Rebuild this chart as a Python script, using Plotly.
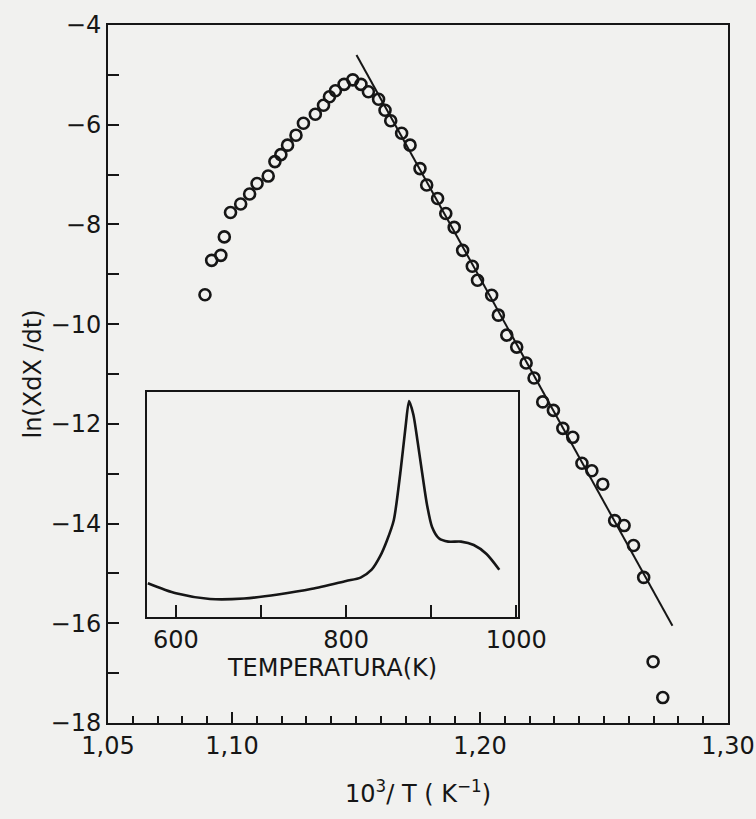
import plotly.graph_objects as go

# Main data: 10^3/T (K^-1) vs ln(X dX/dt)
inv_T = [1.0891, 1.0918, 1.0955, 1.0969, 1.0994, 1.1035, 1.1071, 1.1101, 1.1146, 1.1173,
         1.1197, 1.1224, 1.1258, 1.1288, 1.1336, 1.1369, 1.1393, 1.1417, 1.1452, 1.1487,
         1.1520, 1.1550, 1.1591, 1.1617, 1.1640, 1.1684, 1.1718, 1.1758, 1.1785, 1.1829,
         1.1862, 1.1896, 1.1930, 1.1969, 1.1990, 1.2047, 1.2074, 1.2108, 1.2148, 1.2186,
         1.2218, 1.2253, 1.2296, 1.2334, 1.2374, 1.2411, 1.2451, 1.2495, 1.2543, 1.2581,
         1.2619, 1.2660, 1.2698, 1.2737]
ln_rate = [-9.41, -8.72, -8.62, -8.25, -7.76, -7.59, -7.39, -7.18, -7.03, -6.74,
           -6.60, -6.41, -6.21, -5.97, -5.79, -5.61, -5.44, -5.32, -5.19, -5.10,
           -5.19, -5.34, -5.49, -5.71, -5.92, -6.17, -6.41, -6.88, -7.21, -7.48,
           -7.78, -8.06, -8.52, -8.84, -9.12, -9.42, -9.82, -10.22, -10.46, -10.78,
           -11.08, -11.56, -11.73, -12.09, -12.27, -12.79, -12.94, -13.21, -13.94, -14.04,
           -14.44, -15.08, -16.77, -17.49]

# Fitted straight line endpoints
fit_x = [1.1502, 1.2776]
fit_y = [-4.60, -16.05]

# Inset: signal vs temperature
inset_T = [567, 600, 640, 680, 720, 760, 800, 817, 830, 840, 848, 856, 864, 870, 874,
           879, 884, 889, 895, 901, 909, 920, 935, 950, 965, 980]
inset_signal = [0.15, 0.105, 0.08, 0.082, 0.10, 0.125, 0.16, 0.175, 0.21, 0.27, 0.34, 0.43,
                0.65, 0.85, 0.96, 0.90, 0.78, 0.65, 0.50, 0.40, 0.35, 0.335, 0.335, 0.32,
                0.28, 0.21]

x_tickvals = [1.05, 1.10, 1.20, 1.30]
x_ticktext = ["1,05", "1,10", "1,20", "1,30"]
y_tickvals = [-4, -6, -8, -10, -12, -14, -16, -18]
y_ticktext = ["\u22124", "\u22126", "\u22128", "\u221210", "\u221212", "\u221214", "\u221216", "\u221218"]
inset_tickvals = [600, 800, 1000]
inset_ticktext = ["600", "800", "1000"]

INK = "#161616"
BG = "#f1f1ef"
FONT = "DejaVu Sans"

fig = go.Figure()
fig.add_trace(go.Scatter(x=fit_x, y=fit_y, mode="lines",
                         line=dict(color=INK, width=2), showlegend=False))
fig.add_trace(go.Scatter(x=inv_T, y=ln_rate, mode="markers",
                         marker=dict(symbol="circle-open", size=11, color=INK,
                                     line=dict(width=2.6, color=INK)),
                         showlegend=False))
fig.add_trace(go.Scatter(x=inset_T, y=inset_signal, mode="lines", xaxis="x2", yaxis="y2",
                         line=dict(color=INK, width=2.6, shape="spline", smoothing=0.7),
                         showlegend=False))

fig.update_layout(
    width=756, height=819,
    margin=dict(l=108, r=28, t=25, b=96),
    paper_bgcolor=BG, plot_bgcolor=BG,
    font=dict(family=FONT, color=INK, size=24),
    xaxis=dict(range=[1.05, 1.30], tickvals=x_tickvals, ticktext=x_ticktext,
               automargin=False, ticklabeloverflow="allow",
               ticks="inside", ticklen=11, tickwidth=2, tickcolor=INK,
               minor=dict(ticks="inside", dtick=0.01, ticklen=7, tickwidth=2, tickcolor=INK),
               showline=True, linecolor=INK, linewidth=2, mirror=True,
               showgrid=False, zeroline=False,
               tickfont=dict(size=24),
               title=dict(text="10<sup>3</sup>/ T ( K<sup>\u22121</sup>)", font=dict(size=24), standoff=26)),
    yaxis=dict(range=[-18, -4], tickvals=y_tickvals, ticktext=y_ticktext,
               automargin=False, ticklabeloverflow="allow",
               ticks="inside", ticklen=11, tickwidth=2, tickcolor=INK,
               minor=dict(ticks="inside", dtick=1, ticklen=11, tickwidth=2, tickcolor=INK),
               showline=True, linecolor=INK, linewidth=2, mirror=True,
               showgrid=False, zeroline=False,
               tickfont=dict(size=24),
               title=dict(text="ln(XdX /dt)", font=dict(size=24), standoff=2)),
    xaxis2=dict(domain=[0.0629, 0.6613], anchor="y2", range=[566, 1002],
                automargin=False, ticklabeloverflow="allow",
                tickvals=inset_tickvals, ticktext=inset_ticktext,
                ticks="inside", ticklen=12, tickwidth=2, tickcolor=INK,
                minor=dict(ticks="inside", tick0=600, dtick=100, ticklen=12, tickwidth=2, tickcolor=INK),
                showline=True, linecolor=INK, linewidth=2, mirror=True,
                showgrid=False, zeroline=False, tickfont=dict(size=24),
                title=dict(text="TEMPERATURA(K)", font=dict(size=24), standoff=0)),
    yaxis2=dict(domain=[0.1519, 0.4742], anchor="x2", range=[0, 1],
                automargin=False,
                showticklabels=False, ticks="",
                showline=True, linecolor=INK, linewidth=2, mirror=True,
                showgrid=False, zeroline=False),
)

fig.write_html("out.html",
               config={"displayModeBar": False},
               post_script="document.body.style.margin='0px';"
                           "document.body.style.background='#f1f1ef';"
                           "document.body.style.overflow='hidden';")
